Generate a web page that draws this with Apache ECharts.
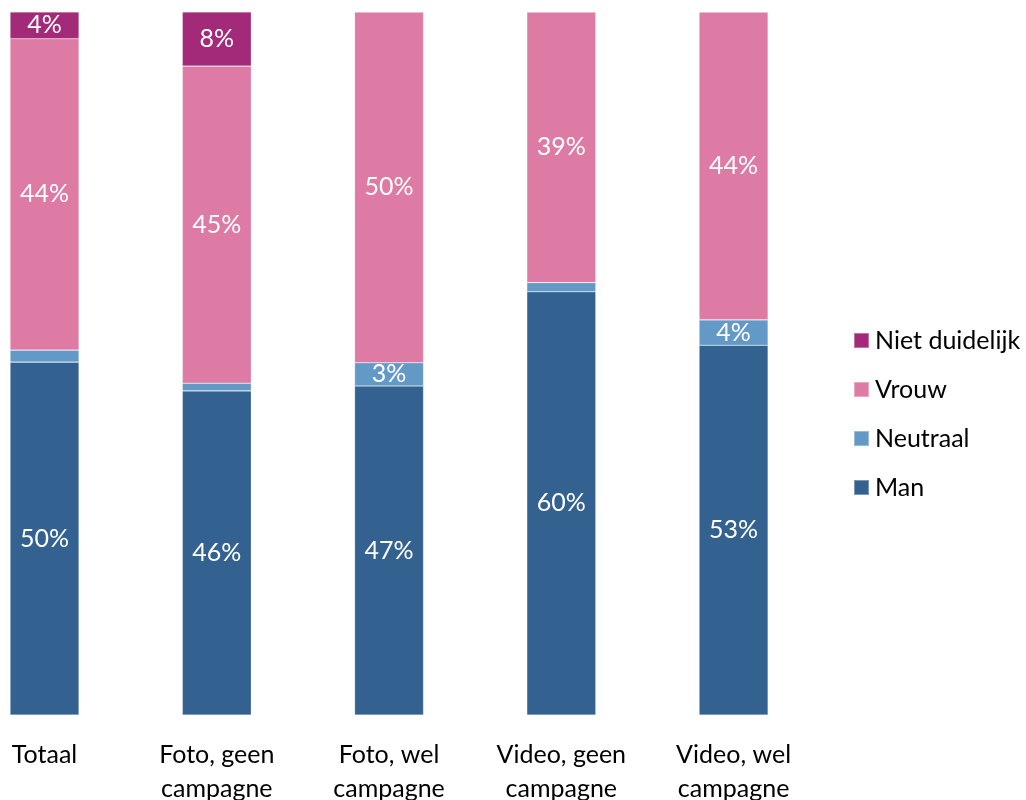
<!DOCTYPE html>
<html>
<head>
<meta charset="utf-8">
<script src="https://cdn.jsdelivr.net/npm/echarts@6/dist/echarts.min.js"></script>
<style>
  html, body { margin: 0; padding: 0; background: #ffffff; }
  #chart { width: 1026px; height: 800px; }
</style>
</head>
<body>
<div id="chart"></div>
<script>
// Aandeel per groep (procenten, per kolom opgeteld tot 100)
const categories = ['Totaal', 'Foto, geen\ncampagne', 'Foto, wel\ncampagne', 'Video, geen\ncampagne', 'Video, wel\ncampagne'];
const man = [50.2, 46.1, 46.8, 60.2, 52.6];
const neutraal = [1.7, 1.1, 3.3, 1.3, 3.6];
const vrouw = [44.3, 45.1, 49.9, 38.5, 43.8];
const nietDuidelijk = [3.8, 7.7, 0, 0, 0];

const FONT = 'Lato';
const colors = {
  'Man': '#346290',
  'Neutraal': '#6399C6',
  'Vrouw': '#DE7BA5',
  'Niet duidelijk': '#A32A79'
};

function makeSeries(name, values) {
  return {
    name: name,
    type: 'bar',
    stack: 'totaal',
    barWidth: 69,
    data: values,
    itemStyle: { color: colors[name], borderColor: 'rgba(255,255,255,0.35)', borderWidth: 0.6 },
    label: {
      show: true,
      position: 'inside',
      color: '#ffffff',
      fontFamily: FONT,
      fontSize: 25,
      formatter: p => (p.value >= 2.5 ? Math.round(p.value) + '%' : '')
    }
  };
}

const chart = echarts.init(document.getElementById('chart'), null, { renderer: 'canvas' });
chart.setOption({
  animation: false,
  backgroundColor: '#ffffff',
  grid: { left: -41.6, width: 861.3, top: 12, bottom: 85, containLabel: false, outerBoundsMode: 'none' },
  legend: {
    orient: 'vertical',
    left: 848,
    top: 321,
    data: ['Niet duidelijk', 'Vrouw', 'Neutraal', 'Man'],
    icon: 'rect',
    itemWidth: 15,
    itemHeight: 15,
    itemGap: 20,
    textStyle: { fontFamily: FONT, fontSize: 25, color: '#000000', padding: [0, 0, 0, 1], lineHeight: 29 }
  },
  xAxis: {
    type: 'category',
    data: categories,
    axisLine: { show: false },
    axisTick: { show: false },
    axisLabel: {
      interval: 0,
      margin: 23,
      color: '#000000',
      fontFamily: FONT,
      fontSize: 25,
      lineHeight: 34
    }
  },
  yAxis: {
    type: 'value',
    min: 0,
    max: 100,
    show: false,
    splitLine: { show: false }
  },
  series: [
    makeSeries('Man', man),
    makeSeries('Neutraal', neutraal),
    makeSeries('Vrouw', vrouw),
    makeSeries('Niet duidelijk', nietDuidelijk)
  ]
});
</script>
</body>
</html>
